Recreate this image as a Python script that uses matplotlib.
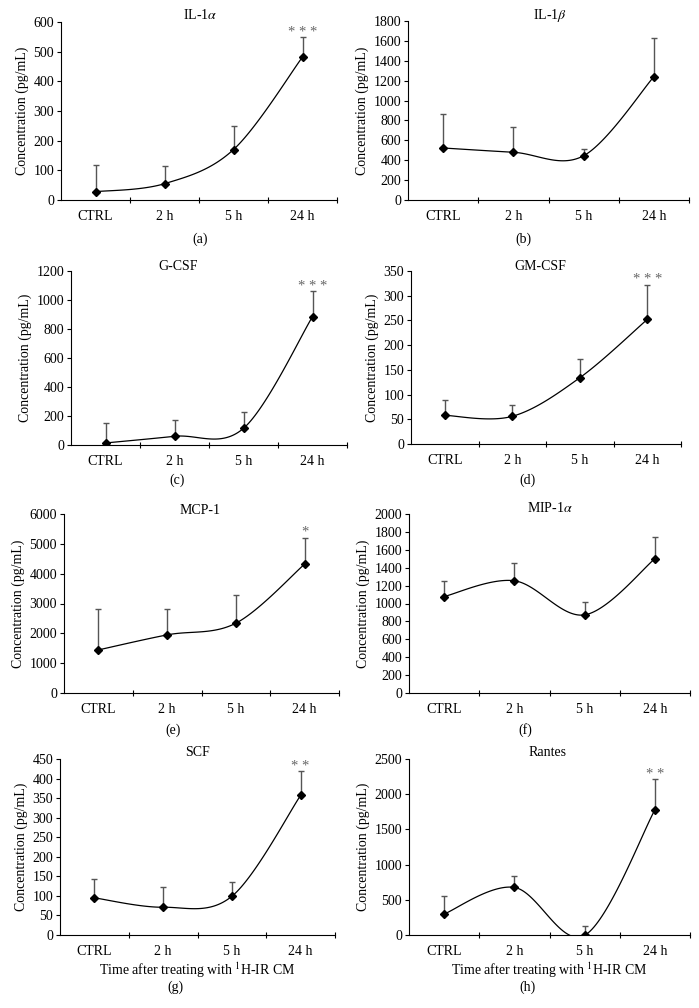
import numpy as np
import matplotlib.pyplot as plt
import matplotlib.ticker as tkr

plt.rcParams['font.family'] = 'Liberation Serif'
plt.rcParams['mathtext.fontset'] = 'stix'

# DATA

times = ['CTRL', '2 h', '5 h', '24 h']

il1a_mean = [28, 55, 170, 482]
il1a_err = [90, 58, 80, 66]

il1b_mean = [523, 480, 445, 1240]
il1b_err = [338, 250, 70, 392]

gcsf_mean = [14, 60, 115, 885]
gcsf_err = [140, 115, 110, 175]

gmcsf_mean = [58, 56, 134, 252]
gmcsf_err = [32, 23, 38, 70]

mcp1_mean = [1444, 1948, 2340, 4320]
mcp1_err = [1366, 873, 952, 887]

mip1a_mean = [1078, 1254, 873, 1500]
mip1a_err = [168, 201, 142, 246]

scf_mean = [95, 71, 99, 357]
scf_err = [48, 51, 36, 62]

rantes_mean = [298, 676, -5, 1777]
rantes_err = [255, 156, 128, 435]

titles = ['IL-1$\\alpha$', 'IL-1$\\beta$', 'G-CSF', 'GM-CSF',
          'MCP-1', 'MIP-1$\\alpha$', 'SCF', 'Rantes']
means = [il1a_mean, il1b_mean, gcsf_mean, gmcsf_mean,
         mcp1_mean, mip1a_mean, scf_mean, rantes_mean]
errs = [il1a_err, il1b_err, gcsf_err, gmcsf_err,
        mcp1_err, mip1a_err, scf_err, rantes_err]
stars = ['* * *', '', '* * *', '* * *', '*', '', '* *', '* *']
y_max = [600, 1800, 1200, 350, 6000, 2000, 450, 2500]
y_step = [100, 200, 200, 50, 1000, 200, 50, 500]
panel_tags = ['(a)', '(b)', '(c)', '(d)', '(e)', '(f)', '(g)', '(h)']

# LAYOUT (pixels: left, top, right, bottom)

W, H = 699, 1008
axes_px = [(61, 22, 337, 200), (408, 21, 689, 200),
           (71, 271, 347, 445), (411, 271, 681, 444),
           (64, 514, 339, 693), (409, 514, 690, 693),
           (60, 759, 335, 935), (409, 759, 690, 935)]
title_px = [(200, 15), (550, 15), (178, 267), (540, 266),
            (200, 510), (550, 508), (197, 753), (548, 753)]
tag_px = [(200, 239), (523, 239), (177, 480), (527, 480),
          (173, 730), (525, 730), (175, 987), (527, 987)]
FS = 10


def smooth_curve(x, y, n=40):
    """ Excel-like smoothed line (Catmull-Rom as cubic Bezier). """
    pts = np.column_stack([x, y]).astype(float)
    out = []
    for i in range(len(pts) - 1):
        p_prev = pts[max(i - 1, 0)]
        p0 = pts[i]
        p3 = pts[i + 1]
        p_next = pts[min(i + 2, len(pts) - 1)]
        p1 = p0 + (p3 - p_prev) / 6
        p2 = p3 - (p_next - p0) / 6
        t = np.linspace(0, 1, n)[:, None]
        seg = ((1 - t) ** 3 * p0 + 3 * (1 - t) ** 2 * t * p1
               + 3 * (1 - t) * t ** 2 * p2 + t ** 3 * p3)
        out.append(seg if i == 0 else seg[1:])
    out = np.vstack(out)
    return out[:, 0], out[:, 1]


fig = plt.figure(figsize=(W / 100, H / 100), dpi=100)
x = np.arange(len(times))

for k in range(8):
    l, t, r, b = axes_px[k]
    ax = fig.add_axes([l / W, 1 - b / H, (r - l) / W, (b - t) / H])
    mean = np.array(means[k], dtype=float)
    err = np.array(errs[k], dtype=float)

    # upward error bars only
    ax.vlines(x, mean, mean + err, color='#555555', linewidth=1.0, zorder=2)
    ax.plot(x, mean + err, linestyle='none', marker='_', markersize=5,
            markeredgewidth=1.0, color='#555555', zorder=2)

    sx, sy = smooth_curve(x, mean)
    ax.plot(sx, sy, color='black', linewidth=0.9, zorder=3)
    ax.plot(x, mean, linestyle='none', marker='D', markersize=4.5,
            color='black', zorder=4)

    if stars[k]:
        ax.annotate(stars[k], (x[-1], mean[-1] + err[-1]),
                    xytext=(0, -1), textcoords='offset points',
                    ha='center', va='bottom', color='#666666', fontsize=10.5)

    ax.set_xlim(-0.5, len(times) - 0.5)
    ax.set_ylim(0, y_max[k])
    ax.yaxis.set_major_locator(tkr.MultipleLocator(y_step[k]))
    ax.set_xticks(np.arange(len(times)) + 0.5)
    ax.set_xticklabels([])
    ax.set_xticks(x, minor=True)
    ax.set_xticklabels(times, minor=True)
    ax.tick_params(axis='x', which='major', direction='inout', length=5,
                   width=0.8)
    ax.tick_params(axis='x', which='minor', length=0, pad=7, labelsize=FS)
    ax.tick_params(axis='y', direction='out', length=3, width=0.8, pad=2,
                   labelsize=FS)
    for side in ['top', 'right']:
        ax.spines[side].set_visible(False)
    for side in ['left', 'bottom']:
        ax.spines[side].set_linewidth(0.8)
    ax.set_ylabel('Concentration (pg/mL)', fontsize=FS, labelpad=3)

    if k >= 6:
        ax.set_xlabel('Time after treating with $^{1}$H-IR CM', fontsize=FS,
                      labelpad=2)

    tx, ty = title_px[k]
    fig.text(tx / W, 1 - ty / H, titles[k], ha='center', va='center',
             fontsize=FS)
    gx, gy = tag_px[k]
    fig.text(gx / W, 1 - gy / H, panel_tags[k], ha='center', va='center',
             fontsize=FS)

fig.savefig('out.png', dpi=100)
